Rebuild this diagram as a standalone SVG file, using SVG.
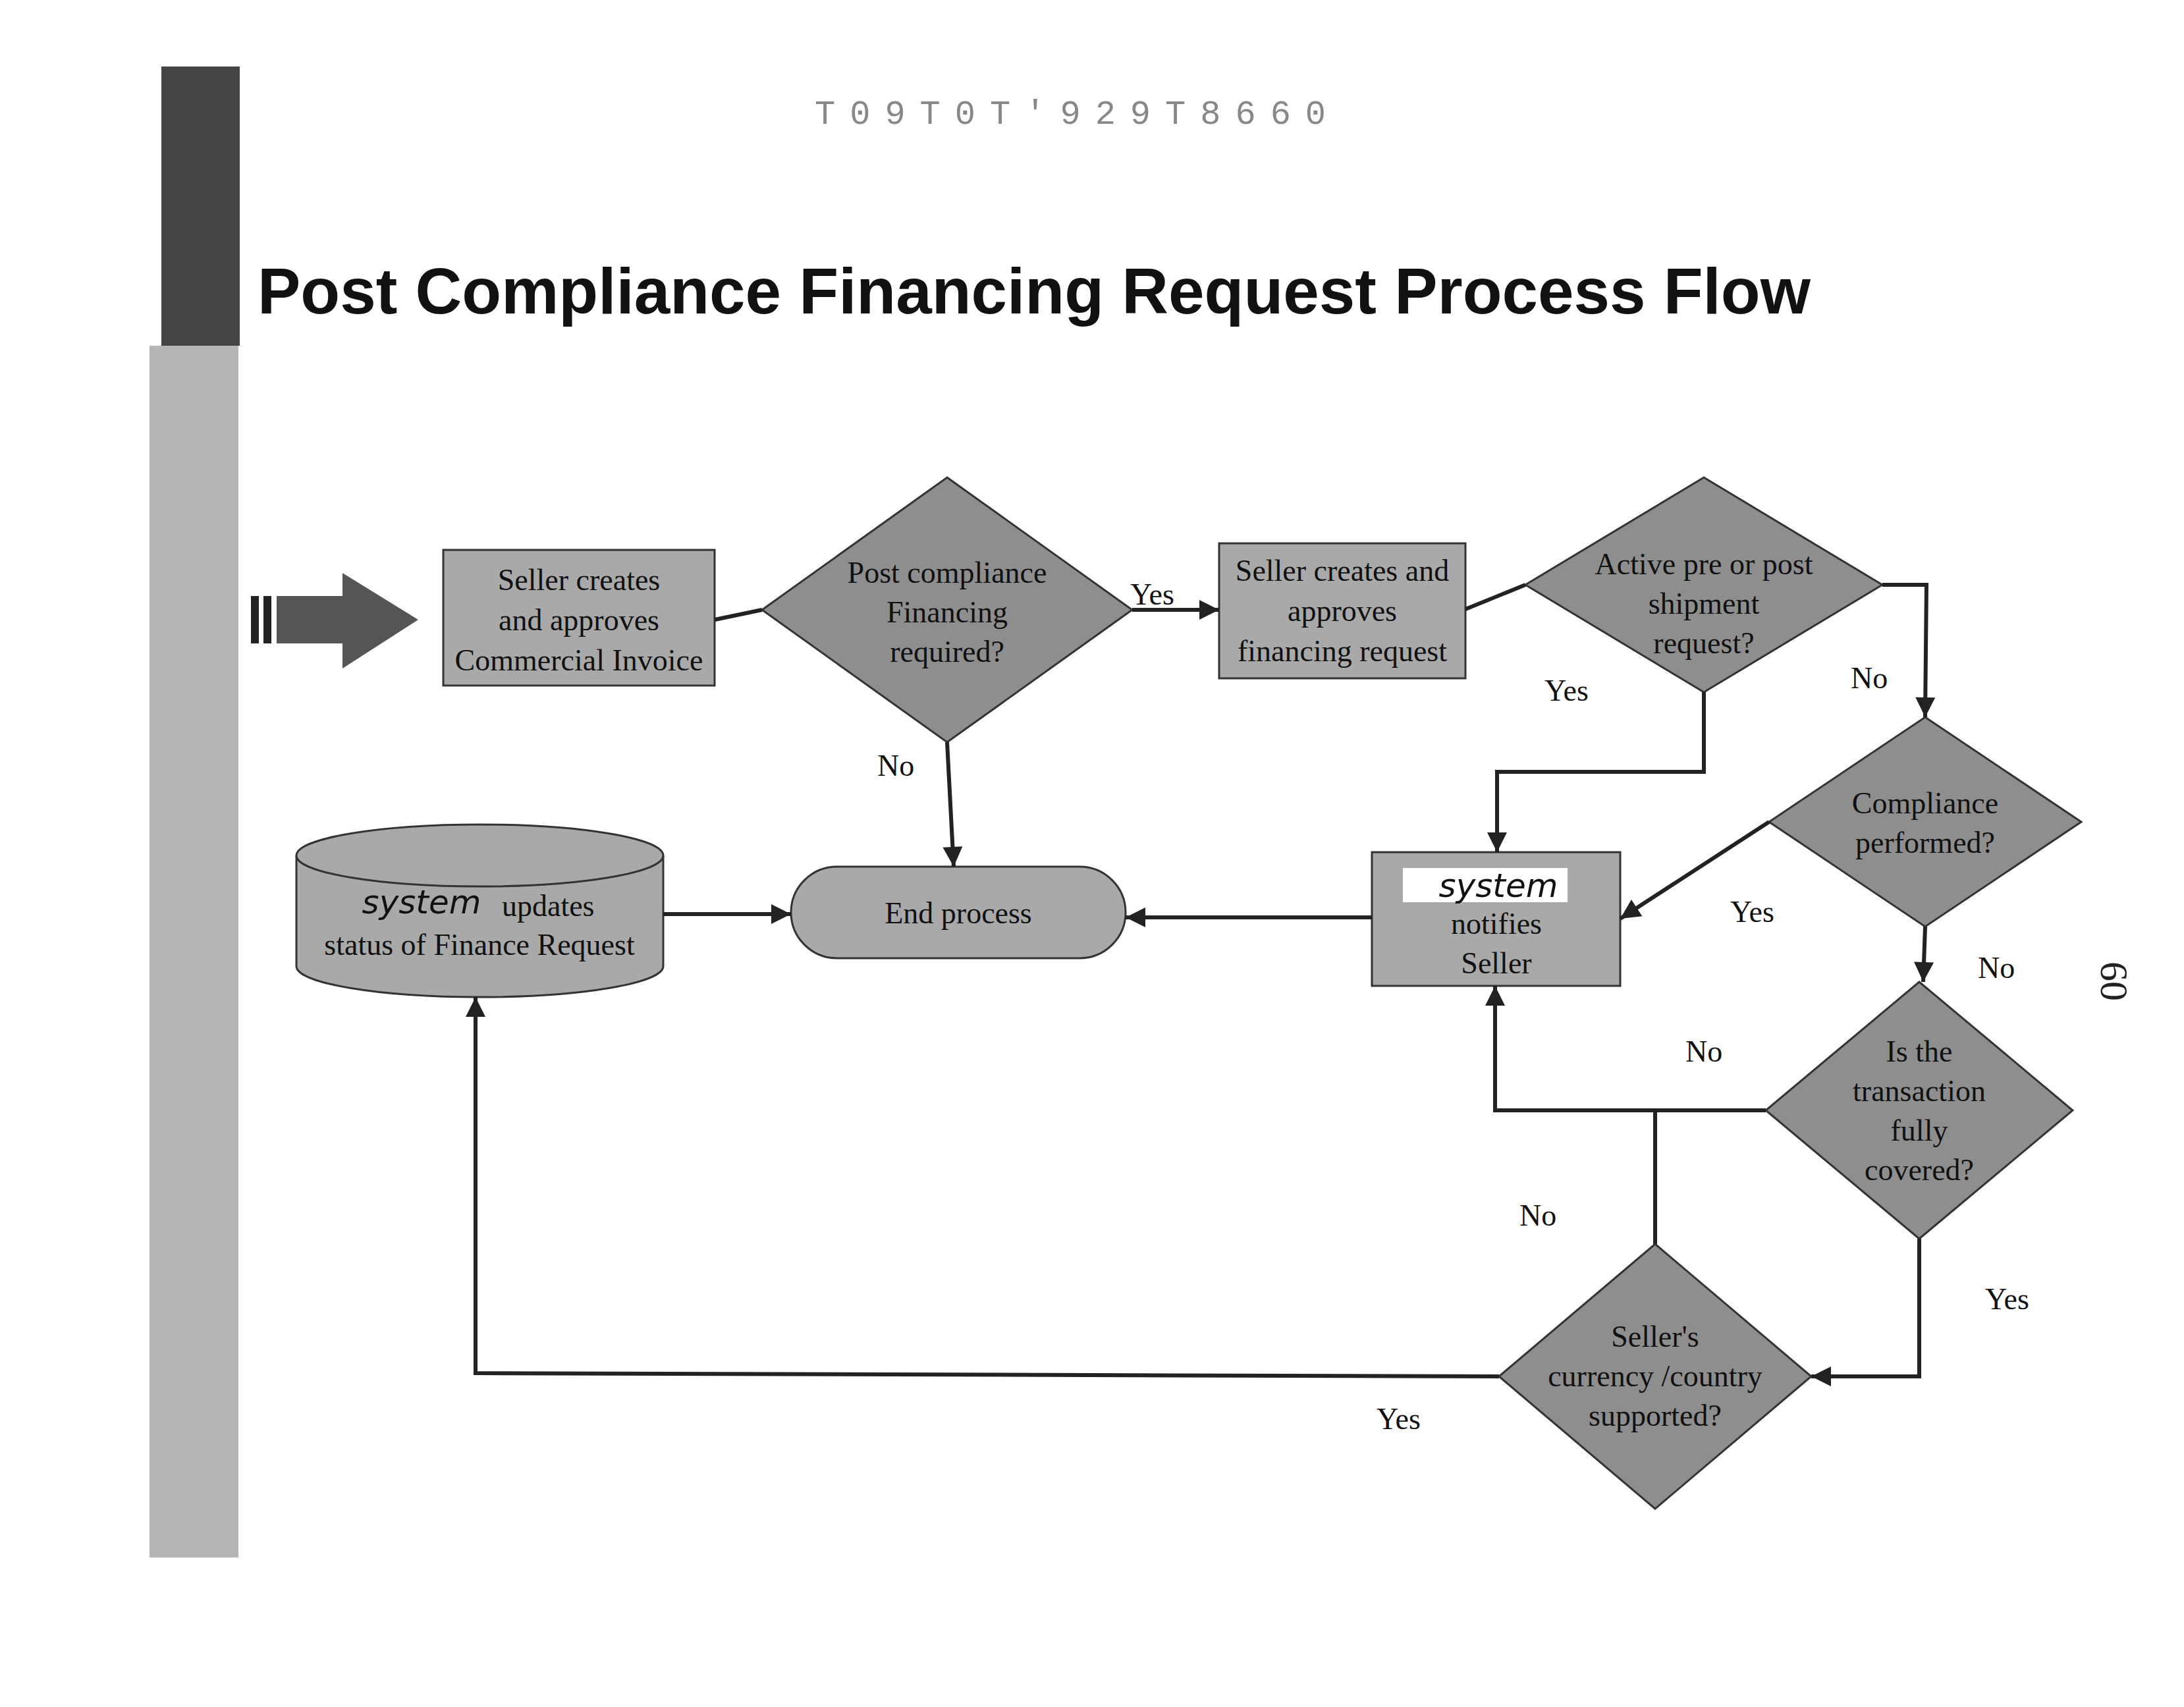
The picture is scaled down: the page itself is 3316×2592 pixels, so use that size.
<svg xmlns="http://www.w3.org/2000/svg" width="3316" height="2592" viewBox="0 0 3316 2592">
<defs>
<marker id="ah" viewBox="0 0 10 10" refX="10" refY="5" markerWidth="36" markerHeight="30" orient="auto" markerUnits="userSpaceOnUse">
<path d="M0,0 L10,5 L0,10 z" fill="#222"/>
</marker>
<style>
.n{fill:#a9a9a9;stroke:#333;stroke-width:3}
.d{fill:#8e8e8e;stroke:#333;stroke-width:3}
.t{font-family:"Liberation Serif",serif;font-size:46px;fill:#111;text-anchor:middle}
.l{font-family:"Liberation Serif",serif;font-size:46px;fill:#111}
.h{font-family:"DejaVu Sans",sans-serif;font-style:italic;font-size:50px;fill:#111;text-anchor:middle}
.c{fill:none;stroke:#222;stroke-width:6}
</style>
</defs>
<rect width="3316" height="2592" fill="#fff"/>
<rect x="245" y="101" width="119" height="424" fill="#444"/>
<rect x="227" y="525" width="135" height="1840" fill="#b5b5b5"/>
<text x="1237" y="188" font-family="Liberation Mono,monospace" font-size="52" letter-spacing="22" fill="#888">T09T0T'929T8660</text>
<text x="391" y="476" font-family="Liberation Sans,sans-serif" font-weight="bold" font-size="98" fill="#111">Post Compliance Financing Request Process Flow</text>
<text x="0" y="0" transform="translate(3190,1460) rotate(90)" font-family="Liberation Serif,serif" font-size="60" fill="#222">60</text>
<g id="start"><rect x="381" y="905" width="12" height="72" fill="#222"/><rect x="400" y="905" width="12" height="72" fill="#222"/><path d="M420,905 L520,905 L520,870 L635,941 L520,1015 L520,977 L420,977 z" fill="#555"/></g>
<g id="box1"><rect class="n" x="673" y="835" width="412" height="206"/><text class="t" x="879" y="896">Seller creates</text><text class="t" x="879" y="957">and approves</text><text class="t" x="879" y="1018">Commercial Invoice</text></g>
<g id="d1"><polygon class="d" points="1438,725 1719,926 1438,1127 1157,926"/><text class="t" x="1438" y="885">Post compliance</text><text class="t" x="1438" y="945">Financing</text><text class="t" x="1438" y="1005">required?</text></g>
<g id="box2"><rect class="n" x="1851" y="825" width="374" height="205"/><text class="t" x="2038" y="882">Seller creates and</text><text class="t" x="2038" y="943">approves</text><text class="t" x="2038" y="1004">financing request</text></g>
<g id="d2"><polygon class="d" points="2587,725 2858,888 2587,1051 2316,888"/><text class="t" x="2587" y="872">Active pre or post</text><text class="t" x="2587" y="932">shipment</text><text class="t" x="2587" y="992">request?</text></g>
<g id="d3"><polygon class="d" points="2923,1089 3160,1248 2923,1407 2686,1248"/><text class="t" x="2923" y="1235">Compliance</text><text class="t" x="2923" y="1295">performed?</text></g>
<g id="d4"><polygon class="d" points="2914,1491 3147,1686 2914,1881 2681,1686"/><text class="t" x="2914" y="1612">Is the</text><text class="t" x="2914" y="1672">transaction</text><text class="t" x="2914" y="1732">fully</text><text class="t" x="2914" y="1792">covered?</text></g>
<g id="d5"><polygon class="d" points="2513,1889 2750,2090 2513,2291 2276,2090"/><text class="t" x="2513" y="2045">Seller's</text><text class="t" x="2513" y="2105">currency /country</text><text class="t" x="2513" y="2165">supported?</text></g>
<g id="notify"><rect class="n" x="2083" y="1294" width="377" height="203"/><rect x="2130" y="1318" width="250" height="52" fill="#fff"/><text class="h" x="2275" y="1362">system</text><text class="t" x="2272" y="1418">notifies</text><text class="t" x="2272" y="1478">Seller</text></g>
<g id="end"><rect class="n" x="1201" y="1316" width="508" height="139" rx="70"/><text class="t" x="1455" y="1402">End process</text></g>
<g id="db"><path class="n" d="M450,1299 A278.5,47 0 0 1 1007,1299 L1007,1467 A278.5,47 0 0 1 450,1467 z"/><path d="M450,1299 A278.5,47 0 0 0 1007,1299" fill="none" stroke="#333" stroke-width="3"/><text class="h" x="640" y="1387">system</text><text class="l" x="762" y="1391">updates</text><text class="t" x="728" y="1450">status of Finance Request</text></g>
<g id="connectors">
<path class="c" d="M1085,941 L1157,926"/>
<path class="c" d="M1719,926 L1851,926" marker-end="url(#ah)"/>
<path class="c" d="M1438,1127 L1448,1316" marker-end="url(#ah)"/>
<path class="c" d="M2225,925 L2316,888"/>
<path class="c" d="M2858,888 L2925,888 L2923,1089" marker-end="url(#ah)"/>
<path class="c" d="M2587,1051 L2587,1172 L2273,1172 L2273,1294" marker-end="url(#ah)"/>
<path class="c" d="M2686,1248 L2460,1395" marker-end="url(#ah)"/>
<path class="c" d="M2923,1407 L2920,1491" marker-end="url(#ah)"/>
<path class="c" d="M2681,1686 L2270,1686 L2270,1497" marker-end="url(#ah)"/>
<path class="c" d="M2914,1881 L2914,2090 L2750,2090" marker-end="url(#ah)"/>
<path class="c" d="M2513,1889 L2513,1686"/>
<path class="c" d="M2276,2090 L722,2085 L722,1514" marker-end="url(#ah)"/>
<path class="c" d="M1007,1388 L1201,1388" marker-end="url(#ah)"/>
<path class="c" d="M2083,1393 L1709,1393" marker-end="url(#ah)"/>
<text class="l" x="1716" y="918">Yes</text>
<text class="l" x="1332" y="1178">No</text>
<text class="l" x="2810" y="1045">No</text>
<text class="l" x="2345" y="1064">Yes</text>
<text class="l" x="2627" y="1400">Yes</text>
<text class="l" x="3003" y="1485">No</text>
<text class="l" x="2559" y="1612">No</text>
<text class="l" x="3014" y="1988">Yes</text>
<text class="l" x="2307" y="1861">No</text>
<text class="l" x="2090" y="2170">Yes</text>
</g>
</svg>
